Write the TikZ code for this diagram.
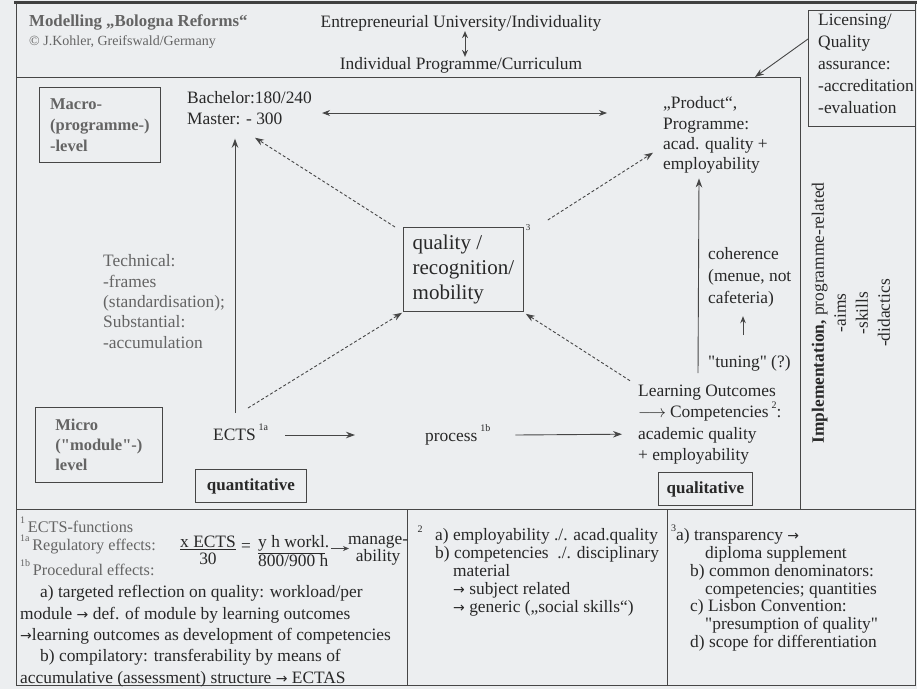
\documentclass[tikz,border=0pt]{standalone}
\usepackage{fontspec}
\setmainfont{Liberation Serif}[Ligatures=TeXOff]
\newfontfamily\symf{DejaVu Sans}
\usetikzlibrary{arrows.meta,calc}
\definecolor{bg}{RGB}{236,238,240}
\definecolor{ink}{RGB}{40,40,40}
\definecolor{faint}{RGB}{100,100,100}
\definecolor{ln}{RGB}{70,70,70}
\newcommand\supr[1]{\smash{\raisebox{0.55em}{\fontsize{10}{10}\selectfont #1}}}
\newcommand\ra{{\symf\fontsize{14}{14}\selectfont →}}
\begin{document}
\begin{tikzpicture}[x=1pt,y=-1pt,
  every node/.style={inner sep=0pt, text=ink},
  txt/.style={align=left, font=\fontsize{17.4}{20.5}\selectfont},
  boxd/.style={draw=ln, line width=0.8pt},
  arr/.style={draw=ln, line width=0.9pt, -{Stealth[length=9pt,width=6.5pt]}},
  dbl/.style={arr, {Stealth[length=8pt,width=6pt]}-{Stealth[length=8pt,width=6pt]}},
  darr/.style={arr, dash pattern=on 3pt off 2.2pt},
  frame/.style={draw=ln, line width=1pt},
]
\fill[bg] (0,0) rectangle (917,689);
\useasboundingbox (0,0) rectangle (917,689);

% frame
\draw[frame, line width=2.5pt, draw=black!75] (14,2.5) -- (917,2.5);
\draw[frame] (16,3) -- (16,685) -- (915,685) -- (915,3);
\draw[frame] (16,77) -- (800,77) -- (800,509);
\draw[frame] (16,509) -- (915,509);
\draw[frame] (407,509) -- (407,685);
\draw[frame] (667,509) -- (667,685);

% header
\node[txt, anchor=west, font=\bfseries\fontsize{16.8}{20}\selectfont, text=faint] (title) at (29,22) {Modelling „Bologna Reforms“};
\node[txt, anchor=west, font=\fontsize{14}{16}\selectfont, text=faint] (copy) at (29,42) {© J.Kohler, Greifswald/Germany};
\node[txt] (entre) at (461,23) {Entrepreneurial University/Individuality};
\node[txt] (indiv) at (461,65) {Individual Programme/Curriculum};
\draw[dbl, {Stealth[length=7pt,width=6pt]}-{Stealth[length=7pt,width=6pt]}] ($(entre.south)+(4,0)$) -- ($(indiv.north)+(4,0)$);

% licensing
\node[boxd, anchor=north west, minimum width=107pt, minimum height=116pt] (licbox) at (808,10) {};
\node[txt, anchor=north west, font=\fontsize{17.4}{22}\selectfont] (lic) at (818,13.5) {Licensing/\\Quality\\assurance:\\-accreditation\\-evaluation};
\coordinate (lictip) at (755,77);
\draw[arr] ($(licbox.north west)+(0,29)$) -- (lictip);

% level boxes
\node[boxd, txt, anchor=north west, minimum width=121pt, minimum height=75pt, font=\bfseries\fontsize{16.5}{21}\selectfont, text=faint] (macro) at (39,87) {Macro-\\(programme-)\\-level};
\node[boxd, txt, anchor=north west, minimum width=127pt, minimum height=75pt, font=\bfseries\fontsize{16.5}{20}\selectfont, text=faint] (micro) at (35,407) {Micro\\("module"-)\\level};

% main texts
\node[txt, anchor=north west] (bach) at (187,91.5) {Bachelor:180/240\\Master: - 300};
\node[txt, anchor=north west, font=\fontsize{17.4}{20.3}\selectfont] (prod) at (663,96.7) {„Product“,\\Programme:\\acad. quality +\\employability};
\node[txt, anchor=north west, text=faint, font=\fontsize{17.4}{20.3}\selectfont] (tech) at (103,254.7) {Technical:\\-frames\\(standardisation);\\Substantial:\\-accumulation};
\node[boxd, txt, anchor=north west, minimum width=120pt, minimum height=84pt, font=\fontsize{21}{25}\selectfont] (q) at (403,227) {quality /\\recognition/\\mobility};
\node[font=\fontsize{9}{9}\selectfont] (q3) at (528,228) {3};
\node[txt, anchor=base west] (ects) at (213,440) {ECTS\,\supr{1a}};
\node[txt, anchor=base west] (proc) at (425,441) {process\,\supr{1b}};
\node[txt, anchor=north west, font=\fontsize{17.4}{21.3}\selectfont] (lo) at (638,384.7) {Learning Outcomes\\$\longrightarrow$\hspace{4pt}Competencies\,\supr{2}:\\academic quality\\+ employability};
\node[txt, anchor=north west, font=\fontsize{17.4}{22}\selectfont] (coh) at (708,247.7) {coherence\\(menue, not\\cafeteria)};
\node[txt, anchor=base west] (tun) at (708,367.5) {"tuning" (?)};
\node[boxd, anchor=north west, minimum width=111pt, minimum height=33pt, font=\bfseries\fontsize{17}{20}\selectfont] (quant) at (195,469) {quantitative};
\node[boxd, anchor=north west, minimum width=94pt, minimum height=33pt, font=\bfseries\fontsize{17}{20}\selectfont] (qual) at (658,472) {qualitative};
\node[txt, rotate=90, align=center, font=\fontsize{17.4}{22}\selectfont] (impl) at (851,313) {\textbf{Implementation,} programme-related\\-aims\\-skills\\-didactics};

% solid arrows
\draw[dbl] ($(bach.north east)+(10,21.5)$) -- ($(prod.north west)+(-56,16.3)$);
\draw[arr] ($(ects.base west)+(22,-27)$) -- ($(bach.south west)+(48,14)$);
\draw[arr] ($(ects.base east)+(17,-5)$) -- ($(proc.base west)+(-70,-6)$);
\draw[arr] ($(proc.base east)+(25,-6)$) -- ($(lo.north west)+(-16,49.5)$);
\draw[arr] ($(lo.north west)+(60,-11.5)$) -- ($(prod.south west)+(36,4.6)$);
\draw[arr, -{Stealth[length=7pt,width=5.5pt]}] ($(tun.base west)+(35,-32.5)$) -- ($(coh.south west)+(35,8.3)$);

% dashed arrows
\draw[darr] ($(q.north west)+(-8,0)$) -- ($(bach.south west)+(68,13)$);
\draw[darr] ($(ects.base west)+(35,-32)$) -- ($(q.south west)+(-1,1)$);
\draw[darr] ($(lo.north west)+(-8,-4)$) -- ($(q.south east)+(2,2)$);
\draw[darr] ($(q.north east)+(24,-7)$) -- ($(prod.north west)+(-10,56)$);

% footnote panel 1
\node[txt, anchor=base west, text=faint, font=\fontsize{16.2}{18}\selectfont] (fn1) at (20,532) {\supr{1}\,ECTS-functions};
\node[txt, anchor=base west, text=faint, font=\fontsize{16.2}{18}\selectfont] (fn1a) at (20,550.5) {\supr{1a}\,Regulatory effects:};
\node[txt, anchor=north west, align=center, font=\fontsize{17.4}{17}\selectfont] (fr1) at (180,535.5) {\underline{x ECTS}\\30};
\node[txt, anchor=base west] (eq) at (241,551) {=};
\node[txt, anchor=north west, font=\fontsize{17.4}{17}\selectfont] (fr2) at (258,535.5) {\underline{y h workl}.\\800/900 h};
\node[txt, anchor=north west, align=center, font=\fontsize{17.4}{17}\selectfont] (mng) at (348,535.5) {manage-\\ability};
\draw[arr, line width=0.7pt, -{Stealth[length=6pt,width=5pt]}] ($(fr2.north east)+(2,13)$) -- ($(mng.north west)+(1,13)$);
\node[txt, anchor=base west, text=faint, font=\fontsize{16.2}{18}\selectfont] (fn1b) at (20,575.5) {\supr{1b}\,Procedural effects:};
\node[txt, anchor=north west, font=\fontsize{17.4}{21.4}\selectfont] (fn1c) at (20,585.3) {\hspace*{20pt}a) targeted reflection on quality: workload/per\\module \ra\ def. of module by learning outcomes\\\ra learning outcomes as development of competencies\\\hspace*{20pt}b) compilatory: transferability by means of\\accumulative (assessment) structure \ra\ ECTAS};

% footnote panel 2
\node[font=\fontsize{10}{10}\selectfont] (n2) at (420,529) {2};
\node[txt, anchor=north west, font=\fontsize{17.4}{18}\selectfont] (fn2) at (435,528.7) {a) employability ./. acad.quality\\b) competencies\ \ ./. disciplinary\\\hspace*{18pt}material\\\hspace*{18pt}\ra\ subject related\\\hspace*{18pt}\ra\ generic („social skills“)};

% footnote panel 3
\node[txt, anchor=north west, font=\fontsize{17.4}{17.7}\selectfont] (fn3) at (671,528.7) {\supr{3}a) transparency \ra\\\hspace*{34pt}diploma supplement\\\hspace*{19pt}b) common denominators:\\\hspace*{34pt}competencies; quantities\\\hspace*{19pt}c) Lisbon Convention:\\\hspace*{34pt}"presumption of quality"\\\hspace*{19pt}d) scope for differentiation};
\end{tikzpicture}
\end{document}
